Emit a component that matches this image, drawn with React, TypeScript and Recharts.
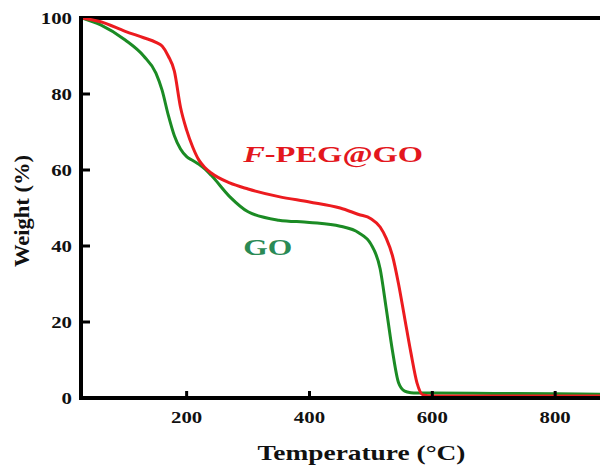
import React from 'react';
import { LineChart, Line, XAxis, YAxis, ReferenceLine, ReferenceDot } from 'recharts';

// TGA curves: temperature (°C) vs. remaining weight (%)
const temperatures = [30, 60, 100, 130, 150, 160, 170, 180, 190, 200, 210, 220, 230, 240, 270, 300, 350, 400, 450, 480, 500, 515, 525, 535, 545, 555, 565, 575, 585, 600, 700, 800, 886];
const goWeight = [100, 98.2, 94.2, 90, 85.5, 81, 74.5, 69, 65.5, 63.5, 62.5, 61.5, 60.2, 58.6, 53, 49, 46.8, 46.2, 45.2, 43.5, 40.5, 34, 23.5, 12.5, 4, 1.8, 1.4, 1.3, 1.3, 1.3, 1.2, 1.1, 1.0];
const fpegWeight = [100, 99, 96.5, 94.8, 93.6, 92.6, 90, 86, 76.5, 70.5, 66, 62.6, 60.6, 59.2, 56.6, 55, 53, 51.6, 50, 48.3, 47.2, 45, 42, 37.5, 30, 21, 12, 4, 0.8, 0.5, 0.5, 0.5, 0.5];
const xTicks = [200, 400, 600, 800];
const yTicks = [0, 20, 40, 60, 80, 100];
const xDomain = [28, 886];
const yDomain = [0, 100];

const data = temperatures.map((t, i) => ({ t, go: goWeight[i], fpeg: fpegWeight[i] }));

const FONT = '"Liberation Serif", "Times New Roman", serif';
const RED_LINE = '#ec1b1f';
const GREEN_LINE = '#1b8b24';
const RED_TEXT = '#e3171d';
const GREEN_TEXT = '#2a8a55';

const digitWidth = 10.4;

const YTick = (props: any) => {
  const { x, y, payload } = props;
  const v = payload.value;
  const s = String(v);
  return (
    <g>
      {v !== yDomain[0] && v !== yDomain[1] && (
        <line x1={x} x2={x + 9} y1={y} y2={y} stroke="#000" strokeWidth={3} />
      )}
      <text
        x={x - 9}
        y={y + 6}
        textAnchor="end"
        fontFamily={FONT}
        fontWeight="bold"
        fontSize={17}
        fill="#111"
        textLength={s.length * digitWidth}
        lengthAdjust="spacingAndGlyphs"
      >
        {s}
      </text>
    </g>
  );
};

const XTick = (props: any) => {
  const { x, y, payload } = props;
  const s = String(payload.value);
  return (
    <g>
      <line x1={x} x2={x} y1={y} y2={y - 7} stroke="#000" strokeWidth={3} />
      <text
        x={x}
        y={y + 25}
        textAnchor="middle"
        fontFamily={FONT}
        fontWeight="bold"
        fontSize={17}
        fill="#111"
        textLength={s.length * digitWidth}
        lengthAdjust="spacingAndGlyphs"
      >
        {s}
      </text>
    </g>
  );
};

const XTitle = (props: any) => {
  const vb = props.viewBox || { x: 73, y: 390, width: 527, height: 67 };
  return (
    <text
      x={vb.x + vb.width / 2 + 17}
      y={vb.y + 62}
      textAnchor="middle"
      fontFamily={FONT}
      fontWeight="bold"
      fontSize={22}
      fill="#111"
      textLength={208}
      lengthAdjust="spacingAndGlyphs"
    >
      Temperature (°C)
    </text>
  );
};

const YTitle = (props: any) => {
  const vb = props.viewBox || { x: 0, y: 10, width: 73, height: 380 };
  const cx = vb.x + 14;
  const cy = vb.y + vb.height / 2 + 3;
  return (
    <text
      x={cx}
      y={cy}
      transform={`rotate(-90, ${cx}, ${cy})`}
      textAnchor="middle"
      dominantBaseline="central"
      fontFamily={FONT}
      fontWeight="bold"
      fontSize={20}
      fill="#111"
      textLength={112}
      lengthAdjust="spacingAndGlyphs"
    >
      Weight (%)
    </text>
  );
};

const SeriesName = (props: any, text: React.ReactNode, color: string, width: number) => {
  const vb = props.viewBox || { x: 0, y: 0 };
  return (
    <text
      x={vb.x}
      y={vb.y}
      textAnchor="start"
      fontFamily={FONT}
      fontWeight="bold"
      fontSize={24}
      fill={color}
      textLength={width}
      lengthAdjust="spacingAndGlyphs"
    >
      {text}
    </text>
  );
};

export default function App() {
  return (
    <div style={{ width: 600, height: 457, background: '#fff' }}>
      <LineChart
        width={600}
        height={457}
        data={data}
        margin={{ top: 10, right: 0, left: 0, bottom: 0 }}
      >
        <XAxis
          dataKey="t"
          type="number"
          domain={xDomain}
          ticks={xTicks}
          allowDataOverflow
          height={67}
          tickSize={0}
          tickMargin={0}
          tickLine={false}
          tick={<XTick />}
          axisLine={{ stroke: '#000', strokeWidth: 4, strokeLinecap: 'square' }}
          label={{ content: XTitle }}
        />
        <YAxis
          type="number"
          domain={yDomain}
          ticks={yTicks}
          allowDataOverflow
          width={73}
          tickSize={0}
          tickMargin={0}
          tickLine={false}
          tick={<YTick />}
          axisLine={{ stroke: '#000', strokeWidth: 4, strokeLinecap: 'square' }}
          label={{ content: YTitle }}
        />
        <ReferenceLine
          y={yDomain[1]}
          stroke="#000"
          strokeWidth={4}
          strokeLinecap="square"
          ifOverflow="visible"
        />
        <Line
          dataKey="go"
          type="monotone"
          stroke={GREEN_LINE}
          strokeWidth={3}
          dot={false}
          isAnimationActive={false}
        />
        <Line
          dataKey="fpeg"
          type="monotone"
          stroke={RED_LINE}
          strokeWidth={3}
          dot={false}
          isAnimationActive={false}
        />
        <ReferenceDot
          x={292}
          y={62}
          r={0}
          fill="none"
          stroke="none"
          label={{
            content: (p: any) =>
              SeriesName(
                p,
                <>
                  <tspan fontStyle="italic">F</tspan>
                  <tspan>-PEG@GO</tspan>
                </>,
                RED_TEXT,
                180
              ),
          }}
        />
        <ReferenceDot
          x={292}
          y={37.6}
          r={0}
          fill="none"
          stroke="none"
          label={{ content: (p: any) => SeriesName(p, 'GO', GREEN_TEXT, 49) }}
        />
      </LineChart>
    </div>
  );
}
